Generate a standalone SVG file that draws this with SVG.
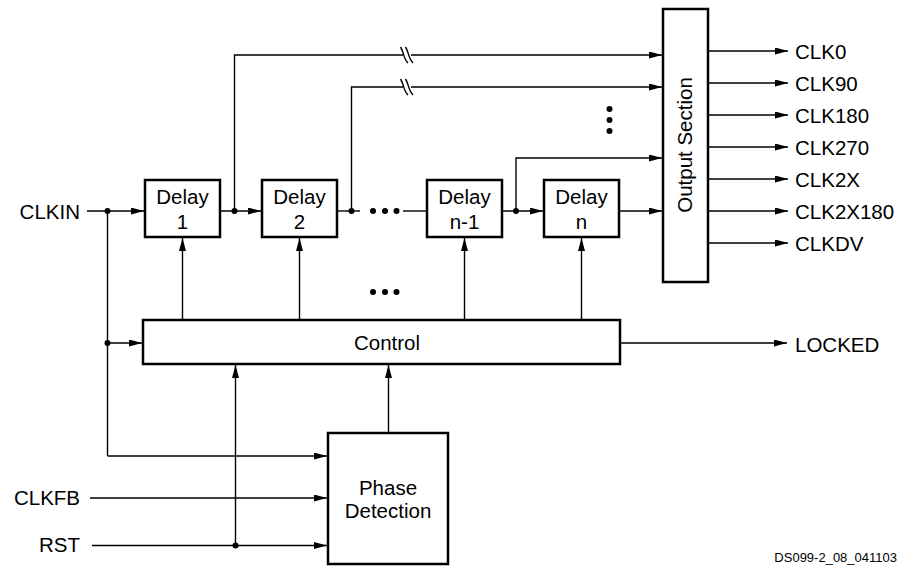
<svg xmlns="http://www.w3.org/2000/svg" width="901" height="567" viewBox="0 0 901 567">
<style>
.box{fill:#fff;stroke:#000;stroke-width:2.5}
.ln{fill:none;stroke:#000;stroke-width:1.4}
.ar{fill:none;stroke:#000;stroke-width:1.4;marker-end:url(#ah)}
.t{font-family:"Liberation Sans",Arial,sans-serif;font-size:20.5px;fill:#000}
.c{text-anchor:middle}
.e{text-anchor:end}
.dot{fill:#000}
</style>
<defs>
<marker id="ah" markerUnits="userSpaceOnUse" markerWidth="14" markerHeight="8" refX="13" refY="3.5" orient="auto">
<path d="M0,0 L13,3.5 L0,7 z" fill="#000"/>
</marker>
</defs>
<g id="connectors">
<!-- CLKIN -->
<path class="ar" d="M87,211 H144"/>
<path class="ln" d="M107.5,211 V456"/>
<path class="ar" d="M107.5,343 H142"/>
<path class="ar" d="M107.5,456 H327"/>
<!-- delay chain -->
<path class="ar" d="M220,211 H261"/>
<path class="ar" d="M234.5,211 V55 H662"/>
<path class="ln" d="M337,211 H360"/>
<path class="ar" d="M351.5,211 V87 H662"/>
<path class="ln" d="M403,211 H427"/>
<path class="ar" d="M502,211 H543"/>
<path class="ar" d="M516,211 V158 H662"/>
<path class="ar" d="M619,211 H662"/>
<!-- break marks -->
<rect x="403" y="50" width="8" height="10" fill="#fff"/>
<rect x="403" y="82" width="8" height="10" fill="#fff"/>
<path class="ln" d="M400.5,47 C404,52 403,58 408,63 M405.5,47 C409,52 408,58 413,63"/>
<path class="ln" d="M400.5,79 C404,84 403,90 408,95 M405.5,79 C409,84 408,90 413,95"/>
<!-- control to delays -->
<path class="ar" d="M182.5,320 V238"/>
<path class="ar" d="M299.5,320 V238"/>
<path class="ar" d="M464.5,320 V238"/>
<path class="ar" d="M581.5,320 V238"/>
<!-- outputs -->
<path class="ar" d="M708,51 H788"/>
<path class="ar" d="M708,83 H788"/>
<path class="ar" d="M708,115 H788"/>
<path class="ar" d="M708,147 H788"/>
<path class="ar" d="M708,179 H788"/>
<path class="ar" d="M708,211 H788"/>
<path class="ar" d="M708,243 H788"/>
<path class="ar" d="M620,343 H787"/>
<!-- phase detection -->
<path class="ar" d="M388.5,433 V365"/>
<path class="ar" d="M90,498 H327"/>
<path class="ar" d="M92,545.5 H327"/>
<path class="ar" d="M235.5,545.5 V365"/>
<!-- junction dots -->
<circle class="dot" cx="107.5" cy="211" r="3"/>
<circle class="dot" cx="107.5" cy="343" r="3"/>
<circle class="dot" cx="234.5" cy="211" r="3"/>
<circle class="dot" cx="351.5" cy="211" r="3"/>
<circle class="dot" cx="516" cy="211" r="3"/>
<circle class="dot" cx="235.5" cy="545.5" r="3"/>
<!-- ellipsis -->
<circle class="dot" cx="373" cy="211" r="3"/>
<circle class="dot" cx="385" cy="211" r="3"/>
<circle class="dot" cx="396.5" cy="211" r="3"/>
<circle class="dot" cx="373" cy="292" r="3"/>
<circle class="dot" cx="385" cy="292" r="3"/>
<circle class="dot" cx="396.5" cy="292" r="3"/>
<circle class="dot" cx="609.5" cy="109" r="3"/>
<circle class="dot" cx="609.5" cy="120" r="3"/>
<circle class="dot" cx="609.5" cy="131" r="3"/>
</g>
<g id="delay1">
<rect class="box" x="145" y="180" width="75" height="57"/>
<text class="t c" x="182.5" y="204">Delay</text>
<text class="t c" x="182.5" y="229">1</text>
</g>
<g id="delay2">
<rect class="box" x="262" y="180" width="75" height="57"/>
<text class="t c" x="299.5" y="204">Delay</text>
<text class="t c" x="299.5" y="229">2</text>
</g>
<g id="delayn1">
<rect class="box" x="427" y="180" width="75" height="57"/>
<text class="t c" x="464.5" y="204">Delay</text>
<text class="t c" x="464.5" y="229">n-1</text>
</g>
<g id="delayn">
<rect class="box" x="544" y="180" width="75" height="57"/>
<text class="t c" x="581.5" y="204">Delay</text>
<text class="t c" x="581.5" y="229">n</text>
</g>
<g id="output">
<rect class="box" x="663" y="9" width="45" height="273"/>
<text class="t c" transform="translate(692,145) rotate(-90)" x="0" y="0">Output Section</text>
</g>
<g id="control">
<rect class="box" x="143" y="320" width="477" height="44"/>
<text class="t c" x="387" y="350">Control</text>
</g>
<g id="phase">
<rect class="box" x="328" y="433" width="120" height="131"/>
<text class="t c" x="388" y="495">Phase</text>
<text class="t c" x="388" y="518">Detection</text>
</g>
<g id="labels">
<text class="t e" x="80" y="219">CLKIN</text>
<text class="t e" x="80" y="505">CLKFB</text>
<text class="t e" x="80" y="552">RST</text>
<text class="t" x="795" y="58.5">CLK0</text>
<text class="t" x="795" y="90.5">CLK90</text>
<text class="t" x="795" y="122.5">CLK180</text>
<text class="t" x="795" y="154.5">CLK270</text>
<text class="t" x="795" y="186.5">CLK2X</text>
<text class="t" x="795" y="218.5">CLK2X180</text>
<text class="t" x="795" y="250.5">CLKDV</text>
<text class="t" x="795" y="351.5">LOCKED</text>
<text style="font-family:'Liberation Sans',Arial,sans-serif;font-size:13px;text-anchor:end" x="897" y="561.5">DS099-2_08_041103</text>
</g>
</svg>
